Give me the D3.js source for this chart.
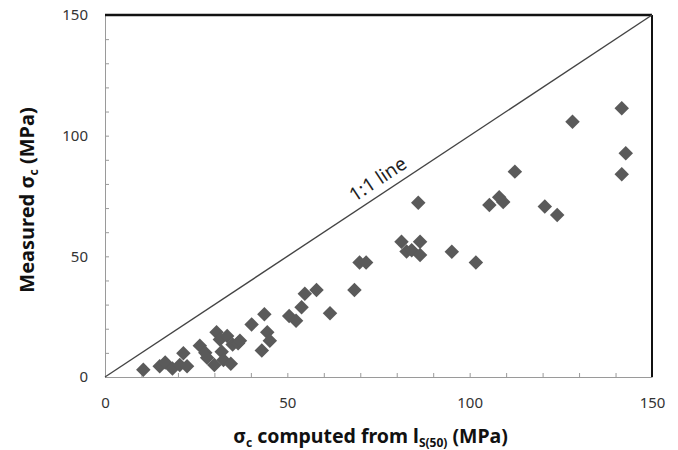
<!DOCTYPE html>
<html>
<head>
<meta charset="utf-8">
<script src="https://cdn.jsdelivr.net/npm/d3@7"></script>
<style>
  body { margin: 0; background: #fff; }
  svg { display: block; font-family: "Noto Sans", "Open Sans", sans-serif; }
  .axis path, .axis line { stroke: #9a9a9a; }
  .axis text { fill: #333; font-size: 15px; }
</style>
</head>
<body>
<div id="chart"></div>
<script>
// Computed UCS (x) vs measured UCS (y), MPa
var computed = [10.5, 15.0, 16.5, 18.5, 20.5, 21.5, 22.5, 26.0, 27.5, 28.0,
    30.0, 30.6, 31.5, 32.0, 32.5, 33.5, 34.5, 35.0, 36.5, 37.0,
    40.2, 43.0, 43.7, 44.5, 45.2, 50.5, 52.4, 53.9, 54.8, 58.0,
    61.7, 68.4, 69.8, 71.6, 81.3, 82.7, 84.1, 86.4, 86.4, 85.9,
    95.1, 101.7, 105.4, 108.1, 109.2, 112.4, 120.6, 124.0, 128.2, 141.7,
    142.8, 141.7];
var measured = [3.0, 4.5, 6.0, 3.5, 5.0, 9.8, 4.5, 13.0, 10.0, 8.0,
    5.0, 18.5, 15.5, 10.5, 7.0, 17.0, 5.5, 13.5, 14.0, 15.0,
    21.8, 11.0, 26.0, 18.5, 15.0, 25.3, 23.3, 28.9, 34.5, 36.1,
    26.4, 36.1, 47.4, 47.4, 56.0, 52.0, 52.5, 56.0, 50.6, 72.2,
    51.9, 47.4, 71.3, 74.5, 72.5, 85.1, 70.6, 67.1, 105.8, 111.4,
    92.7, 84.0];
var tickValues = d3.range(0, 151, 10);
var labelledTicks = [0, 50, 100, 150];

var width = 678, height = 450;
var margin = {left: 105, right: 26, top: 15, bottom: 73};
var chartWidth = width - margin.left - margin.right;
var chartHeight = height - margin.top - margin.bottom;

var data = computed.map(function(d, i) { return {x: d, y: measured[i]}; });

var xScale = d3.scaleLinear().domain([0, 150]).range([0, chartWidth]);
var yScale = d3.scaleLinear().domain([0, 150]).range([chartHeight, 0]);

var svg = d3.select('#chart').append('svg')
    .attr('width', width)
    .attr('height', height);

var g = svg.append('g')
    .attr('transform', 'translate(' + margin.left + ',' + margin.top + ')');

var fmt = function(d) { return labelledTicks.indexOf(d) > -1 ? d : ''; };

// axes, ticks point inwards
g.append('g')
    .attr('class', 'axis x')
    .attr('transform', 'translate(0,' + chartHeight + ')')
    .call(d3.axisBottom(xScale).tickValues(tickValues).tickFormat(fmt)
        .tickSizeInner(-4).tickSizeOuter(0).tickPadding(20));

g.append('g')
    .attr('class', 'axis y')
    .call(d3.axisLeft(yScale).tickValues(tickValues).tickFormat(fmt)
        .tickSizeInner(-4).tickSizeOuter(0).tickPadding(17));

g.selectAll('.axis text').attr('font-family', '"Noto Sans", sans-serif');

// top and right border
g.append('line')
    .attr('x1', 0).attr('x2', chartWidth)
    .attr('y1', 0).attr('y2', 0)
    .attr('stroke', '#111').attr('stroke-width', 2.5);
g.append('line')
    .attr('x1', chartWidth).attr('x2', chartWidth)
    .attr('y1', 0).attr('y2', chartHeight)
    .attr('stroke', '#111').attr('stroke-width', 2);

// 1:1 line
g.append('line')
    .attr('x1', xScale(0)).attr('y1', yScale(0))
    .attr('x2', xScale(150)).attr('y2', yScale(150))
    .attr('stroke', '#444').attr('stroke-width', 1.4);

var angle = Math.atan2(yScale(150) - yScale(0), xScale(150) - xScale(0)) * 180 / Math.PI;
g.append('text')
    .attr('transform', 'translate(' + xScale(77) + ',' + yScale(77) + ') rotate(' + angle + ')')
    .attr('y', -8)
    .attr('text-anchor', 'middle')
    .attr('font-size', 19)
    .attr('fill', '#222')
    .text('1:1 line');

// markers
g.append('g').selectAll('path')
    .data(data)
    .enter().append('path')
    .attr('d', d3.symbol().type(d3.symbolSquare).size(105))
    .attr('transform', function(d) {
        return 'translate(' + xScale(d.x) + ',' + yScale(d.y) + ') rotate(45)';
    })
    .attr('fill', '#5a5a5a');

// axis titles
var xt = svg.append('text')
    .attr('x', margin.left + chartWidth / 2 - 8)
    .attr('y', 443)
    .attr('text-anchor', 'middle')
    .attr('font-size', 19.5)
    .attr('font-weight', 'bold')
    .attr('fill', '#111');
xt.append('tspan').text('σ');
xt.append('tspan').attr('font-size', 12).attr('dy', 4).text('c');
xt.append('tspan').attr('dy', -4).text(' computed from l');
xt.append('tspan').attr('font-size', 12).attr('dy', 4).text('S(50)');
xt.append('tspan').attr('dy', -4).text(' (MPa)');

var yt = svg.append('text')
    .attr('transform', 'translate(34,' + (margin.top + chartHeight / 2 + 4) + ') rotate(-90)')
    .attr('text-anchor', 'middle')
    .attr('font-size', 20)
    .attr('font-weight', 'bold')
    .attr('fill', '#111');
yt.append('tspan').text('Measured  σ');
yt.append('tspan').attr('font-size', 12).attr('dy', 4).text('c');
yt.append('tspan').attr('dy', -4).text(' (MPa)');
</script>
</body>
</html>
